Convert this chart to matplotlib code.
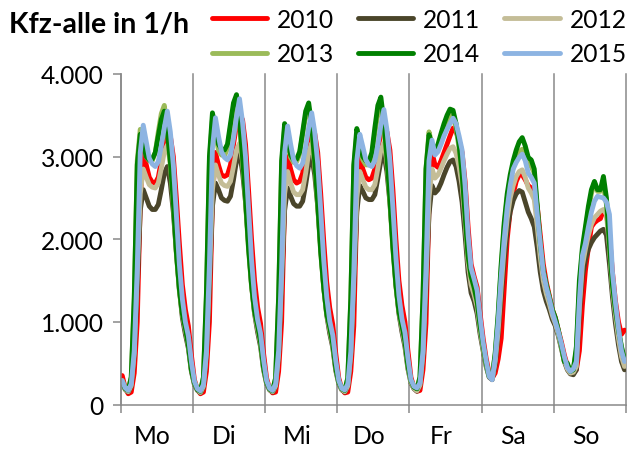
import numpy as np
import matplotlib
matplotlib.use("Agg")
import matplotlib.pyplot as plt

plt.rcParams['font.family'] = ['Lato', 'DejaVu Sans']

# Hourly traffic volume (vehicles per hour), one week Mo..So, 24 values per day
years = ["2010", "2011", "2012", "2013", "2014", "2015"]
colors = ["#FF0000", "#4A452A", "#C4BD97", "#9BBB59", "#008000", "#8DB4E2"]
day_labels = ["Mo", "Di", "Mi", "Do", "Fr", "Sa", "So"]
y_ticks = [0, 1000, 2000, 3000, 4000]
y_tick_labels = ["0", "1.000", "2.000", "3.000", "4.000"]

v2010 = [
    350, 200, 130, 150, 380, 1000, 2450, 3100, 2900, 2750, 2690, 2680, 2750, 2950, 3150, 3290, 3250, 3000, 2500, 1950, 1450, 1150, 950, 600,
    300, 180, 130, 150, 400, 1000, 2500, 3050, 2900, 2780, 2760, 2780, 2900, 3150, 3380, 3490, 3450, 3150, 2600, 2000, 1500, 1180, 980, 620,
    320, 190, 140, 150, 400, 1000, 2450, 3000, 2850, 2720, 2680, 2700, 2800, 3050, 3250, 3325, 3280, 3050, 2550, 1980, 1480, 1170, 970, 620,
    320, 190, 140, 150, 400, 950, 2400, 3000, 2850, 2750, 2720, 2740, 2850, 3100, 3280, 3345, 3300, 3080, 2600, 2000, 1500, 1200, 1000, 650,
    330, 210, 160, 170, 420, 980, 2400, 3050, 2900, 2870, 2950, 3050, 3150, 3250, 3345, 3300, 3200, 3050, 2700, 2150, 1700, 1550, 1420, 1100,
    800, 560, 380, 320, 380, 550, 800, 1400, 2000, 2350, 2550, 2700, 2780, 2780, 2720, 2650, 2620, 2600, 2400, 2050, 1700, 1480, 1320, 1150,
    1050, 900, 760, 600, 470, 400, 380, 420, 650, 1200, 1620, 1900, 2150, 2200, 2230, 2250, 2350, 2300, 2050, 1600, 1250, 1000, 850, 900,
]
v2011 = [
    260, 180, 150, 220, 600, 1400, 2350, 2600, 2500, 2400, 2360, 2360, 2420, 2600, 2800, 2880, 2680, 2330, 1850, 1400, 1050, 850, 680, 400,
    240, 170, 140, 210, 600, 1450, 2400, 2680, 2600, 2500, 2470, 2460, 2520, 2720, 2950, 3040, 2820, 2450, 1950, 1450, 1100, 880, 700, 420,
    250, 175, 150, 220, 600, 1450, 2350, 2620, 2520, 2430, 2400, 2400, 2460, 2660, 2900, 3000, 2780, 2400, 1900, 1420, 1080, 860, 690, 410,
    250, 175, 150, 220, 600, 1430, 2330, 2650, 2580, 2500, 2480, 2480, 2540, 2740, 2950, 3040, 2820, 2450, 1950, 1450, 1100, 880, 700, 430,
    260, 190, 160, 230, 600, 1400, 2300, 2650, 2560, 2600, 2680, 2780, 2870, 2940, 2960, 2880, 2700, 2450, 2050, 1600, 1350, 1250, 1100, 850,
    650, 460, 330, 300, 480, 850, 1300, 1750, 2100, 2330, 2470, 2550, 2590, 2570, 2450, 2330, 2250, 2150, 1900, 1600, 1380, 1250, 1150, 1030,
    950, 830, 680, 520, 420, 370, 360, 420, 1100, 1550, 1750, 1880, 1960, 2020, 2060, 2100, 2120, 2050, 1700, 1300, 980, 720, 520, 420,
]
v2012 = [
    270, 185, 155, 230, 620, 1580, 2550, 2850, 2750, 2660, 2630, 2620, 2680, 2860, 3060, 3140, 2920, 2550, 2000, 1500, 1120, 900, 720, 430,
    250, 175, 145, 220, 620, 1550, 2600, 2900, 2780, 2680, 2650, 2640, 2700, 2880, 3080, 3160, 2950, 2580, 2050, 1520, 1140, 920, 740, 440,
    260, 180, 155, 225, 610, 1550, 2550, 2820, 2680, 2570, 2540, 2540, 2600, 2800, 3050, 3160, 2930, 2560, 2030, 1500, 1120, 900, 720, 430,
    260, 180, 155, 225, 610, 1520, 2500, 2820, 2720, 2630, 2600, 2600, 2660, 2860, 3080, 3160, 2950, 2580, 2050, 1520, 1140, 920, 740, 450,
    270, 195, 165, 235, 620, 1500, 2500, 2850, 2740, 2780, 2860, 2950, 3030, 3100, 3120, 3040, 2880, 2650, 2220, 1720, 1450, 1330, 1180, 900,
    680, 480, 340, 310, 520, 900, 1420, 1900, 2250, 2500, 2650, 2760, 2820, 2840, 2750, 2620, 2560, 2480, 2150, 1780, 1500, 1340, 1220, 1080,
    980, 850, 700, 540, 430, 380, 390, 460, 1180, 1680, 1880, 2050, 2180, 2260, 2300, 2340, 2360, 2300, 1900, 1400, 1080, 800, 580, 460,
]
v2013 = [
    290, 200, 175, 330, 1250, 2950, 3330, 3180, 3000, 2950, 2950, 3050, 3300, 3520, 3620, 3300, 2900, 2400, 1830, 1380, 1080, 920, 710, 420,
    270, 185, 165, 320, 1300, 2950, 3450, 3280, 3080, 3020, 3010, 3100, 3350, 3580, 3670, 3380, 2950, 2450, 1880, 1430, 1110, 950, 750, 440,
    275, 190, 170, 320, 1280, 2900, 3350, 3160, 2990, 2930, 2940, 3030, 3270, 3500, 3580, 3320, 2900, 2400, 1840, 1410, 1090, 930, 730, 440,
    275, 190, 170, 320, 1260, 2870, 3280, 3120, 2960, 2900, 2900, 3000, 3280, 3520, 3600, 3350, 2940, 2450, 1880, 1430, 1120, 950, 760, 460,
    290, 210, 190, 330, 1280, 2850, 3300, 3150, 3060, 3100, 3220, 3330, 3430, 3500, 3490, 3350, 3100, 2780, 2280, 1780, 1540, 1400, 1230, 930,
    700, 490, 340, 330, 600, 1050, 1650, 2150, 2500, 2720, 2870, 2980, 3060, 3090, 3000, 2900, 2880, 2800, 2370, 1930, 1610, 1440, 1290, 1140,
    1030, 890, 710, 520, 480, 410, 440, 650, 1420, 1850, 2100, 2350, 2550, 2690, 2580, 2580, 2650, 2420, 1900, 1420, 1130, 890, 690, 530,
]
v2014 = [
    280, 190, 170, 330, 1300, 2900, 3270, 3150, 3000, 2960, 2970, 3050, 3250, 3450, 3550, 3300, 2950, 2450, 1850, 1400, 1100, 930, 720, 420,
    260, 180, 160, 330, 1350, 3000, 3530, 3350, 3150, 3090, 3080, 3150, 3400, 3650, 3750, 3450, 3000, 2500, 1900, 1450, 1130, 960, 760, 450,
    270, 185, 165, 320, 1300, 2950, 3400, 3200, 3020, 2960, 2970, 3060, 3300, 3550, 3650, 3380, 2950, 2450, 1850, 1420, 1100, 940, 740, 440,
    270, 190, 170, 320, 1280, 2900, 3340, 3180, 3000, 2950, 2940, 3050, 3350, 3620, 3720, 3420, 3000, 2500, 1900, 1450, 1130, 960, 770, 470,
    290, 210, 190, 330, 1300, 2850, 3265, 3150, 3080, 3150, 3280, 3400, 3500, 3575, 3560, 3400, 3150, 2800, 2300, 1800, 1550, 1420, 1250, 950,
    720, 500, 340, 330, 620, 1100, 1700, 2200, 2550, 2780, 2950, 3080, 3180, 3230, 3130, 2990, 2960, 2850, 2400, 1950, 1620, 1450, 1300, 1150,
    1050, 900, 720, 520, 500, 400, 420, 700, 1500, 1900, 2150, 2400, 2600, 2700, 2600, 2600, 2760, 2500, 1950, 1450, 1150, 900, 700, 540,
]
v2015 = [
    290, 200, 170, 250, 650, 1650, 3050, 3380, 3180, 2980, 2910, 2880, 2940, 3130, 3350, 3550, 3300, 2900, 2300, 1700, 1280, 1000, 830, 520,
    280, 190, 165, 240, 650, 1700, 3100, 3470, 3250, 3060, 2990, 2960, 3020, 3220, 3480, 3700, 3420, 3000, 2380, 1750, 1300, 1030, 860, 540,
    290, 195, 170, 250, 650, 1650, 3050, 3370, 3150, 2960, 2890, 2860, 2920, 3120, 3350, 3530, 3300, 2920, 2350, 1750, 1300, 1010, 840, 530,
    290, 195, 175, 250, 640, 1600, 2950, 3270, 3120, 2960, 2900, 2880, 2950, 3140, 3380, 3570, 3330, 2950, 2380, 1780, 1320, 1040, 870, 560,
    300, 220, 200, 260, 650, 1650, 2950, 3200, 3020, 3060, 3150, 3250, 3330, 3400, 3465, 3400, 3250, 3080, 2650, 2050, 1650, 1520, 1380, 1050,
    750, 530, 340, 300, 560, 1000, 1550, 2000, 2380, 2650, 2850, 2930, 2990, 3030, 2950, 2800, 2750, 2680, 2300, 1950, 1600, 1420, 1280, 1120,
    1000, 880, 740, 580, 450, 400, 430, 520, 1250, 1800, 1950, 2150, 2330, 2460, 2520, 2510, 2500, 2450, 2300, 1600, 1230, 920, 650, 520,
]
series = [v2010, v2011, v2012, v2013, v2014, v2015]

W, H = 630, 452
fig = plt.figure(figsize=(W / 100, H / 100), dpi=100)
left, right, top, bottom = 120.7, 626.0, 75.0, 405.5
ax = fig.add_axes([left / W, 1 - bottom / H, (right - left) / W, (bottom - top) / H])

hours = np.arange(len(v2010))
for year, vals, col in zip(years, series, colors):
    ax.plot(hours, vals, color=col, lw=3.5, solid_joinstyle="round",
            solid_capstyle="round", label=year)

ax.set_xlim(-0.5, len(hours) - 0.5)
ax.set_ylim(0, 4000)

axis_gray = "#898989"
for side in ("top", "right"):
    ax.spines[side].set_visible(False)
for side in ("left", "bottom"):
    ax.spines[side].set_color(axis_gray)
    ax.spines[side].set_linewidth(1.1)

# day boundaries: ticks and vertical grid lines; day names centred between them
bounds = np.arange(-0.5, len(hours), 24)
ax.set_xticks(bounds)
ax.set_xticklabels([])
ax.set_xticks(np.arange(len(day_labels)) * 24 + 10, minor=True)
ax.set_xticklabels(day_labels, minor=True)
ax.tick_params(axis="x", which="major", direction="out", length=5.5, width=1.1,
               color=axis_gray)
ax.tick_params(axis="x", which="minor", length=0, pad=14, labelsize=17.7)
ax.grid(axis="x", which="major", color=axis_gray, lw=1.1)
for gl in ax.get_xgridlines():
    gl.set_clip_on(False)

ax.set_yticks(y_ticks)
ax.set_yticklabels(y_tick_labels)
ax.tick_params(axis="y", direction="out", length=5.8, width=1.1, color=axis_gray,
               pad=6.5, labelsize=17.7)

fig.text(9 / W, 1 - 33 / H, "Kfz-alle in 1/h", fontsize=20.5, fontweight="bold",
         va="baseline", ha="left")

handles, labels = ax.get_legend_handles_labels()
order = [0, 3, 1, 4, 2, 5]
ax.legend([handles[i] for i in order], [labels[i] for i in order], ncol=3,
          loc="upper left", bbox_to_anchor=(212 / W, 1 - 9 / H),
          bbox_transform=fig.transFigure, frameon=False, fontsize=17.7,
          handlelength=2.24, handletextpad=0.4, columnspacing=0.98,
          labelspacing=0.46, borderpad=0, borderaxespad=0)

fig.savefig("out.png", dpi=100)
